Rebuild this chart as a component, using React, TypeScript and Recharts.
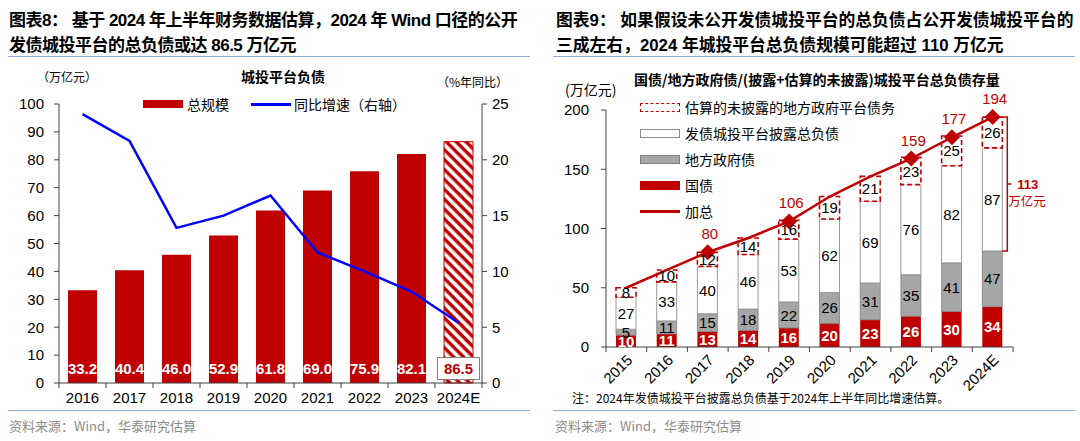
import React from "react";
import { ComposedChart, Bar, Line, XAxis, YAxis, Cell, LabelList } from "recharts";

const RED = "#C00000";
const BLUE = "#0000FF";
const AXIS = "#404040";
const SANS = "'Liberation Sans', Arial, 'Noto Sans CJK SC', sans-serif";
const CJK = "'Noto Sans CJK SC', sans-serif";

// 图表8：城投平台负债
const years8 = ["2016", "2017", "2018", "2019", "2020", "2021", "2022", "2023", "2024E"];
const debtTotal = [33.2, 40.4, 46.0, 52.9, 61.8, 69.0, 75.9, 82.1, 86.5];
const debtYoy = [24.1, 21.7, 13.9, 15.0, 16.8, 11.7, 10.0, 8.2, 5.4];
const leftTicks = [0, 10, 20, 30, 40, 50, 60, 70, 80, 90, 100];
const rightTicks = [0, 5, 10, 15, 20, 25];

// 图表9：总负债存量
const years9 = ["2015", "2016", "2017", "2018", "2019", "2020", "2021", "2022", "2023", "2024E"];
const govBond = [10, 11, 13, 14, 16, 20, 23, 26, 30, 34];
const localGovBond = [5, 11, 15, 18, 22, 26, 31, 35, 41, 47];
const disclosedDebt = [27, 33, 40, 46, 53, 62, 69, 76, 82, 87];
const undisclosedDebt = [8, 10, 12, 14, 16, 19, 21, 23, 25, 26];
const totalDebt = [50, 65, 80, 92, 106, 127, 144, 159, 177, 194];
const labeledYears = ["2017", "2019", "2022", "2023", "2024E"];
const stockTicks = [0, 50, 100, 150, 200];

const data8 = years8.map((year, i) => ({ year, total: debtTotal[i], yoy: debtYoy[i] }));
const data9 = years9.map((year, i) => ({
  year,
  gov: govBond[i],
  local: localGovBond[i],
  disclosed: disclosedDebt[i],
  undisclosed: undisclosedDebt[i],
  sum: totalDebt[i],
}));

// tick marks sit on category borders, not centers
const bandTick = (half: number, count: number, rotate: boolean) => (props: any) => {
  const { x, y, payload, index } = props;
  return (
    <g>
      <line x1={x - half} x2={x - half} y1={y} y2={y + 5} stroke={AXIS} />
      {index === count - 1 && <line x1={x + half} x2={x + half} y1={y} y2={y + 5} stroke={AXIS} />}
      {rotate ? (
        <text
          x={x + 7}
          y={y + 14}
          transform={`rotate(-45 ${x + 7} ${y + 14})`}
          textAnchor="end"
          fontSize={15}
          fontFamily={SANS}
          fill="#000"
        >
          {payload.value}
        </text>
      ) : (
        <text x={x} y={y + 20} textAnchor="middle" fontSize={15} fontFamily={SANS} fill="#000">
          {payload.value}
        </text>
      )}
    </g>
  );
};

const TotalLabel = (props: any) => {
  const { x, y, width, height, value, index } = props;
  const cx = x + width / 2;
  const base = y + height;
  if (index === years8.length - 1) {
    return (
      <g>
        <rect x={cx - 21} y={base - 25.5} width={42} height={22} fill="#fff" stroke="#808080" />
        <text x={cx} y={base - 9} textAnchor="middle" fontSize={15} fontWeight="bold" fontFamily={SANS} fill={RED}>
          {value.toFixed(1)}
        </text>
      </g>
    );
  }
  return (
    <text x={cx} y={base - 9} textAnchor="middle" fontSize={15} fontWeight="bold" fontFamily={SANS} fill="#fff">
      {value.toFixed(1)}
    </text>
  );
};

function DebtChart() {
  return (
    <ComposedChart
      width={540}
      height={441}
      data={data8}
      margin={{ top: 104, right: 0, bottom: 28, left: 0 }}
      style={{ position: "absolute", left: 0, top: 0 }}
    >
      <defs>
        <pattern id="hatch" patternUnits="userSpaceOnUse" width="7" height="7" patternTransform="rotate(45)">
          <rect width="7" height="7" fill="#fff" />
          <rect width="7" height="3.4" fill={RED} />
        </pattern>
      </defs>
      <XAxis
        dataKey="year"
        height={30}
        interval={0}
        tickLine={false}
        tickSize={0}
        tickMargin={0}
        axisLine={{ stroke: AXIS }}
        tick={bandTick(23.5, years8.length, false)}
      />
      <YAxis
        yAxisId="left"
        width={59}
        domain={[0, 100]}
        ticks={leftTicks}
        interval={0}
        tickSize={5}
        tickMargin={10}
        axisLine={{ stroke: AXIS }}
        tickLine={{ stroke: AXIS }}
        tick={{ fontSize: 15, fill: "#000", fontFamily: SANS }}
      />
      <YAxis
        yAxisId="right"
        orientation="right"
        width={58}
        domain={[0, 25]}
        ticks={rightTicks}
        interval={0}
        tickSize={5}
        tickMargin={5}
        axisLine={{ stroke: AXIS }}
        tickLine={{ stroke: AXIS }}
        tick={{ fontSize: 15, fill: "#000", fontFamily: SANS }}
      />
      <Bar yAxisId="left" dataKey="total" barSize={29} fill={RED} isAnimationActive={false}>
        {data8.map((d, i) => (
          <Cell
            key={d.year}
            fill={i === data8.length - 1 ? "url(#hatch)" : RED}
            stroke={i === data8.length - 1 ? RED : "none"}
            strokeWidth={1}
          />
        ))}
        <LabelList dataKey="total" content={TotalLabel} />
      </Bar>
      <Line
        yAxisId="right"
        dataKey="yoy"
        stroke={BLUE}
        strokeWidth={2.5}
        dot={false}
        isAnimationActive={false}
      />
    </ComposedChart>
  );
}

const SegLabel = (color: string, bold: boolean) => (props: any) => {
  const { x, y, width, height, value } = props;
  return (
    <text
      x={x + width / 2}
      y={y + height / 2 + 5.5}
      textAnchor="middle"
      fontSize={15}
      fontWeight={bold ? "bold" : "normal"}
      fontFamily={SANS}
      fill={color}
    >
      {value}
    </text>
  );
};

// 2024E bracket: disclosed + undisclosed
const Bracket = (props: any) => {
  const { x, y, width, height, value, index } = props;
  if (index !== years9.length - 1) return null;
  const perUnit = height / value;
  const top = y - undisclosedDebt[index] * perUnit;
  const bottom = y + height;
  const bx = x + width + 5;
  const mid = (top + bottom) / 2;
  return (
    <g>
      <path d={`M${bx - 5},${top} H${bx} V${bottom} H${bx - 5} M${bx},${mid} H${bx + 4}`} fill="none" stroke={RED} strokeWidth={1.5} />
      <text x={bx + 10} y={mid + 5} fontSize={13} fontWeight="bold" fontFamily={SANS} fill={RED}>
        {disclosedDebt[index] + undisclosedDebt[index]}
      </text>
      <text x={bx + 1} y={mid + 22} fontSize={12.5} fontFamily={CJK} fill={RED}>
        万亿元
      </text>
    </g>
  );
};

const Diamond = (props: any) => {
  const { cx, cy, payload, index } = props;
  if (!labeledYears.includes(payload.year)) return <g key={`d${index}`} />;
  return (
    <path key={`d${index}`} d={`M${cx},${cy - 8} L${cx + 8},${cy} L${cx},${cy + 8} L${cx - 8},${cy} Z`} fill={RED} />
  );
};

const SumLabel = (props: any) => {
  const { x, y, value, index } = props;
  if (!labeledYears.includes(years9[index])) return null;
  return (
    <text x={x + 2} y={y - 13} textAnchor="middle" fontSize={15} fontFamily={SANS} fill={RED}>
      {value}
    </text>
  );
};

function StockChart() {
  return (
    <ComposedChart
      width={540}
      height={441}
      data={data9}
      margin={{ top: 110, right: 67, bottom: 44, left: 0 }}
      style={{ position: "absolute", left: 540, top: 0 }}
    >
      <XAxis
        dataKey="year"
        height={50}
        interval={0}
        tickLine={false}
        tickSize={0}
        tickMargin={0}
        axisLine={{ stroke: AXIS }}
        tick={bandTick(20.35, years9.length, true)}
      />
      <YAxis
        width={66}
        domain={[0, 200]}
        ticks={stockTicks}
        interval={0}
        tickSize={5}
        tickMargin={12}
        axisLine={{ stroke: AXIS }}
        tickLine={{ stroke: AXIS }}
        tick={{ fontSize: 15, fill: "#000", fontFamily: SANS }}
      />
      <Bar dataKey="gov" stackId="s" barSize={20} fill={RED} isAnimationActive={false}>
        <LabelList dataKey="gov" content={SegLabel("#fff", true)} />
      </Bar>
      <Bar dataKey="local" stackId="s" barSize={20} fill="#A6A6A6" stroke="#7F7F7F" strokeWidth={0.8} isAnimationActive={false}>
        <LabelList dataKey="local" content={SegLabel("#000", false)} />
      </Bar>
      <Bar dataKey="disclosed" stackId="s" barSize={20} fill="#fff" stroke="#9A9A9A" strokeWidth={1} isAnimationActive={false}>
        <LabelList dataKey="disclosed" content={SegLabel("#000", false)} />
        <LabelList dataKey="disclosed" content={Bracket} />
      </Bar>
      <Bar
        dataKey="undisclosed"
        stackId="s"
        barSize={20}
        fill="#fff"
        stroke={RED}
        strokeWidth={1.6}
        strokeDasharray="5 3"
        isAnimationActive={false}
      >
        <LabelList dataKey="undisclosed" content={SegLabel("#000", false)} />
      </Bar>
      <Line dataKey="sum" stroke={RED} strokeWidth={2.5} dot={Diamond} isAnimationActive={false}>
        <LabelList dataKey="sum" content={SumLabel} />
      </Line>
    </ComposedChart>
  );
}

const abs = (left: number, top: number, extra: React.CSSProperties = {}): React.CSSProperties => ({
  position: "absolute",
  left,
  top,
  whiteSpace: "nowrap",
  ...extra,
});

const swatch = (style: React.CSSProperties) => (
  <span style={{ display: "inline-block", width: 40, boxSizing: "border-box", verticalAlign: "middle", ...style }} />
);

const legend9 = [
  { label: "估算的未披露的地方政府平台债务", box: { height: 9, border: `1.5px dashed ${RED}`, background: "#fff" } },
  { label: "发债城投平台披露总负债", box: { height: 9, border: "1px solid #8C8C8C", background: "#fff" } },
  { label: "地方政府债", box: { height: 9, border: "1px solid #7F7F7F", background: "#A6A6A6" } },
  { label: "国债", box: { height: 9, background: RED } },
  { label: "加总", box: { height: 3, background: RED } },
];

export default function App() {
  const title: React.CSSProperties = {
    fontFamily: SANS,
    fontWeight: "bold",
    fontSize: 17,
    lineHeight: "25px",
    color: "#000",
  };
  return (
    <div style={{ position: "absolute", left: 0, top: 0, width: 1080, height: 441, background: "#fff", overflow: "hidden" }}>
      <div style={abs(9, 8, { ...title, letterSpacing: -0.5 })}>
        图表8：&nbsp;基于 2024 年上半年财务数据估算，2024 年 Wind 口径的公开
        <br />
        发债城投平台的总负债或达 86.5 万亿元
      </div>
      <div style={abs(556, 8, { ...title, fontSize: 16.8 })}>
        图表9：&nbsp;如果假设未公开发债城投平台的总负债占公开发债城投平台的
        <br />
        三成左右，2024 年城投平台总负债规模可能超过 110 万亿元
      </div>
      <div style={abs(8, 56, { width: 522, borderTop: "1.5px solid #8EAADB" })} />
      <div style={abs(553, 56, { width: 522, borderTop: "1.5px solid #8EAADB" })} />

      <DebtChart />
      <StockChart />

      {/* 图表8 texts */}
      <div style={abs(37, 68, { fontFamily: CJK, fontSize: 12, color: "#000" })}>（万亿元）</div>
      <div style={abs(241, 66, { fontFamily: CJK, fontSize: 14, fontWeight: "bold", color: "#000" })}>城投平台负债</div>
      <div style={abs(437, 73, { fontFamily: CJK, fontSize: 12, color: "#000" })}>（%年同比）</div>
      <div style={abs(143, 94, { fontFamily: CJK, fontSize: 14, color: "#000", display: "flex", alignItems: "center" })}>
        {swatch({ height: 8, background: RED })}
        <span style={{ marginLeft: 4 }}>总规模</span>
        <span style={{ display: "inline-block", width: 22 }} />
        {swatch({ height: 3, background: BLUE })}
        <span style={{ marginLeft: 3 }}>同比增速（右轴）</span>
      </div>

      {/* 图表9 texts */}
      <div style={abs(634, 69, { fontFamily: CJK, fontSize: 14, fontWeight: "bold", color: "#000" })}>
        国债/地方政府债/(披露+估算的未披露)城投平台总负债存量
      </div>
      <div style={abs(565, 79, { fontFamily: CJK, fontSize: 14, color: "#000" })}>(万亿元)</div>
      <div style={abs(640, 94, { fontFamily: CJK, fontSize: 14, color: "#000" })}>
        {legend9.map((it) => (
          <div key={it.label} style={{ display: "flex", alignItems: "center", height: 26 }}>
            {swatch(it.box)}
            <span style={{ marginLeft: 5 }}>{it.label}</span>
          </div>
        ))}
      </div>
      <div style={abs(572, 389, { fontFamily: CJK, fontSize: 12, color: "#000" })}>
        注：2024年发债城投平台披露总负债基于2024年上半年同比增速估算。
      </div>

      <div style={abs(8, 410, { width: 522, borderTop: "1.5px solid #8EAADB" })} />
      <div style={abs(553, 410, { width: 522, borderTop: "1.5px solid #8EAADB" })} />
      <div style={abs(9, 416, { fontFamily: CJK, fontSize: 13, color: "#8C8C8C" })}>资料来源：Wind，华泰研究估算</div>
      <div style={abs(555, 416, { fontFamily: CJK, fontSize: 13, color: "#8C8C8C" })}>资料来源：Wind，华泰研究估算</div>
    </div>
  );
}
